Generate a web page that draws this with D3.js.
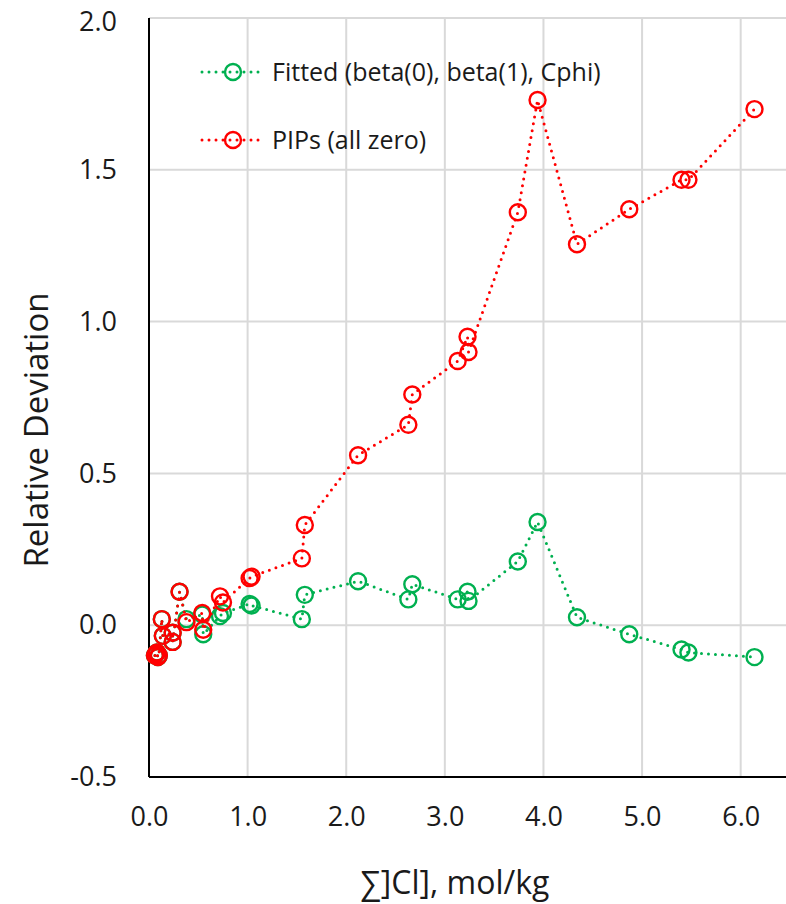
<!DOCTYPE html>
<html lang="en">
<head>
<meta charset="UTF-8">
<title>Relative Deviation</title>
<script src="https://d3js.org/d3.v7.min.js"></script>
<style>
  body { margin: 0; background: #fff; }
  svg text { font-family: "Open Sans", "Noto Sans", sans-serif; fill: #1a1a1a; }
</style>
</head>
<body>
<div id="chart"></div>
<script>
// total chloride, mol/kg (shared by both series)
var clConc = [0.06, 0.07, 0.08, 0.09, 0.10, 0.13, 0.14, 0.24, 0.24, 0.31,
  0.38, 0.54, 0.55, 0.72, 0.75, 1.02, 1.04, 1.55, 1.58, 2.12,
  2.63, 2.67, 3.13, 3.23, 3.24, 3.74, 3.94, 4.34, 4.87, 5.40, 5.47, 6.14];

var fittedDev = [-0.10, -0.095, -0.09, -0.105, -0.10, 0.02, -0.035, -0.025, -0.055, 0.11,
  0.02, 0.035, -0.03, 0.03, 0.04, 0.07, 0.065, 0.02, 0.10, 0.145,
  0.085, 0.135, 0.085, 0.11, 0.08, 0.21, 0.34, 0.026, -0.03, -0.08, -0.09, -0.105];

var pipsDev = [-0.10, -0.095, -0.09, -0.105, -0.10, 0.02, -0.035, -0.025, -0.055, 0.11,
  0.01, 0.04, -0.015, 0.095, 0.075, 0.155, 0.16, 0.22, 0.33, 0.56,
  0.66, 0.76, 0.87, 0.95, 0.90, 1.36, 1.73, 1.255, 1.37, 1.467, 1.467, 1.70];

var seriesNames = ["Fitted (beta(0), beta(1), Cphi)", "PIPs (all zero)"];
var seriesColors = ["#00b050", "#ff0000"];
var xTicks = [0, 1, 2, 3, 4, 5, 6];
var yTicks = [-0.5, 0, 0.5, 1.0, 1.5, 2.0];

var width = 786, height = 904;

var svg = d3.select("#chart").append("svg")
  .attr("width", width)
  .attr("height", height);

var x = d3.scaleLinear().domain([0, 6.5]).range([149, 790]);
var y = d3.scaleLinear().domain([-0.5, 2.0]).range([777, 18]);

var fmt = d => d.toFixed(1); // plain hyphen for negatives, like the original

// gridlines
svg.append("g").selectAll("line.vg")
  .data(xTicks.slice(1))
  .enter().append("line")
  .attr("x1", d => x(d)).attr("x2", d => x(d))
  .attr("y1", y(2.0)).attr("y2", y(-0.5))
  .attr("stroke", "#d9d9d9").attr("stroke-width", 2);

svg.append("g").selectAll("line.hg")
  .data(yTicks.slice(1))
  .enter().append("line")
  .attr("x1", x(0)).attr("x2", width)
  .attr("y1", d => y(d)).attr("y2", d => y(d))
  .attr("stroke", "#d9d9d9").attr("stroke-width", 2);

// axes
var xAxis = svg.append("g")
  .attr("transform", "translate(0," + y(-0.5) + ")")
  .call(d3.axisBottom(x).tickValues(xTicks).tickSize(0).tickPadding(30).tickFormat(fmt));
xAxis.select(".domain").remove();
xAxis.selectAll("text").style("font-size", "27px");

var yAxis = svg.append("g")
  .attr("transform", "translate(" + x(0) + ",0)")
  .call(d3.axisLeft(y).tickValues(yTicks).tickSize(0).tickPadding(32).tickFormat(fmt));
yAxis.select(".domain").remove();
yAxis.selectAll("text").style("font-size", "27px");
// top label sits right at the edge; nudge it down a little so it isn't clipped
yAxis.selectAll(".tick").filter(d => d === 2.0).select("text").attr("dy", "0.45em");

svg.append("line")
  .attr("x1", x(0)).attr("x2", width)
  .attr("y1", y(-0.5)).attr("y2", y(-0.5))
  .attr("stroke", "#000").attr("stroke-width", 2);
svg.append("line")
  .attr("x1", x(0)).attr("x2", x(0))
  .attr("y1", y(2.0)).attr("y2", y(-0.5))
  .attr("stroke", "#000").attr("stroke-width", 2);

// axis titles
svg.append("text")
  .attr("x", 455).attr("y", 894)
  .attr("text-anchor", "middle")
  .style("font-size", "32px")
  .text("∑]Cl], mol/kg");

svg.append("text")
  .attr("transform", "translate(48,430) rotate(-90)")
  .attr("text-anchor", "middle")
  .style("font-size", "33px")
  .text("Relative Deviation");

// series
var allSeries = [fittedDev, pipsDev];
var line = d3.line().x(d => x(d[0])).y(d => y(d[1]));

allSeries.forEach(function(vals, i) {
  var pts = clConc.map((c, j) => [c, vals[j]]);
  var g = svg.append("g");
  g.append("path")
    .datum(pts)
    .attr("d", line)
    .attr("fill", "none")
    .attr("stroke", seriesColors[i])
    .attr("stroke-width", 3)
    .attr("stroke-linecap", "round")
    .attr("stroke-dasharray", "0 7");
  g.selectAll("circle")
    .data(pts)
    .enter().append("circle")
    .attr("cx", d => x(d[0]))
    .attr("cy", d => y(d[1]))
    .attr("r", 8)
    .attr("fill", "none")
    .attr("stroke", seriesColors[i])
    .attr("stroke-width", 2.4);
});

// legend
var legend = svg.append("g");
seriesNames.forEach(function(name, i) {
  var ly = 72 + i * 68;
  legend.append("line")
    .attr("x1", 202).attr("x2", 264)
    .attr("y1", ly).attr("y2", ly)
    .attr("stroke", seriesColors[i])
    .attr("stroke-width", 3)
    .attr("stroke-linecap", "round")
    .attr("stroke-dasharray", "0 7");
  legend.append("circle")
    .attr("cx", 233).attr("cy", ly).attr("r", 8)
    .attr("fill", "none")
    .attr("stroke", seriesColors[i])
    .attr("stroke-width", 2.4);
  legend.append("text")
    .attr("x", 272).attr("y", ly)
    .attr("dy", "0.35em")
    .style("font-size", "25px")
    .text(name);
});
</script>
</body>
</html>
